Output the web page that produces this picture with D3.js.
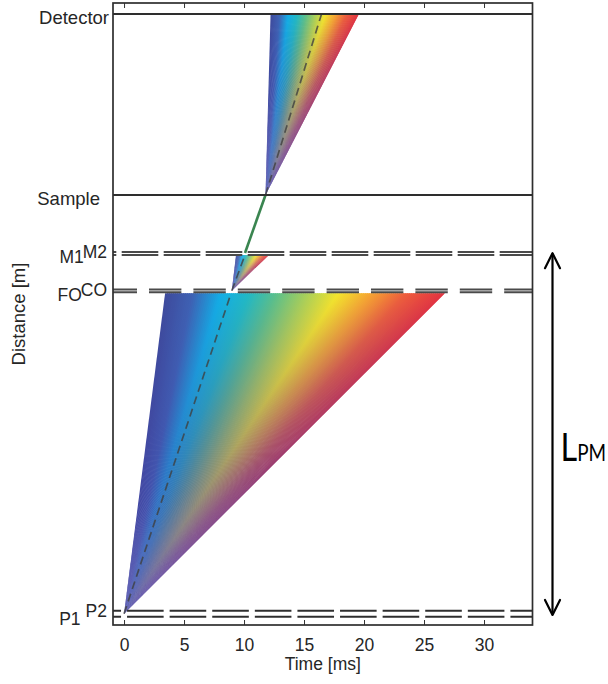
<!DOCTYPE html>
<html><head><meta charset="utf-8">
<script src="https://cdn.jsdelivr.net/npm/d3@7"></script>
<style>
html,body{margin:0;padding:0;background:#fff;}
svg{display:block;}
text{font-family:"Liberation Sans",Arial,Helvetica,sans-serif;fill:#262626;}
</style></head><body>
<svg id="chart" width="608" height="684"></svg>
<script>
// ---------------- data ----------------
const timeTicks = [0, 5, 10, 15, 20, 25, 30];
const timeDomain = [-0.92, 34.04];      // ms
const distDomain = [-0.332, 24.548];    // m

const chopperNames      = ["P1", "P2", "FO", "CO", "M1", "M2"];
const chopperDist       = [0, 0.24, 12.98, 13.09, 14.47, 14.59];
const chopperPeriod     = [3.55, 3.55, 3.7, 3.7, 3.5, 3.5];
const chopperOpenTime   = [0, 0, 8.98, 8.98, 10.08, 10.08];
const chopperOpenWidth  = [0.5, 0.5, 1.0, 1.0, 0.45, 0.45];

const positionNames = ["Sample", "Detector"];
const positionDist  = [16.87, 24.11];

const fanApexTime    = [0, 8.98, 11.79];
const fanApexDist    = [0.12, 13.04, 16.87];
const fanTopDist     = [12.94, 14.47, 24.11];
const fanTopTimeMin  = [3.42, 9.33, 12.21];
const fanTopTimeMax  = [26.75, 12.08, 19.58];
const fanCentreTime  = [8.92, 10.08, 16.46];

const selectedRayTime = [10.08, 11.79];
const selectedRayDist = [14.55, 16.87];

const spanDist = [0.07, 14.54];
const spanLabel = "L", spanSub = "PM";

const rainbowStops  = [0, 0.1, 0.2, 0.3, 0.4, 0.5, 0.62, 0.74, 0.86, 1];
const rainbowColors = ["#3e4a9c", "#3e62b4", "#12aee6", "#22b9c4", "#5cc08a",
                       "#a4cf5c", "#f4e42c", "#f6a232", "#ee5d3c", "#e43340"];
const apexColor = "#4545a8";

// ---------------- layout ----------------
const W = 608, H = 684;
const margin = {top: 3, right: 75.5, bottom: 59, left: 113};
const svg = d3.select("#chart");
const x = d3.scaleLinear().domain(timeDomain).range([margin.left, W - margin.right]);
const y = d3.scaleLinear().domain(distDomain).range([H - margin.bottom, margin.top]);
const rainbow = d3.scaleLinear().domain(rainbowStops).range(rainbowColors).interpolate(d3.interpolateRgb);

const defs = svg.append("defs");
defs.append("clipPath").attr("id", "plotclip").append("rect")
  .attr("x", margin.left).attr("y", margin.top)
  .attr("width", W - margin.right - margin.left).attr("height", H - margin.bottom - margin.top);

const plot = svg.append("g").attr("clip-path", "url(#plotclip)");

// ---------------- fans (gouraud-like shading) ----------------
const mixOffsets = [0, 0.25, 0.5, 0.75, 1];
fanApexTime.forEach((at, f) => {
  const N = f === 0 ? 140 : 80;
  const ax = x(at), ay = y(fanApexDist[f]);
  const ty = y(fanTopDist[f]);
  const tmin = fanTopTimeMin[f], tmax = fanTopTimeMax[f];
  const g = plot.append("g");
  for (let i = 0; i < N; i++) {
    const u0 = i / N, u1 = (i + 1) / N, um = (u0 + u1) / 2;
    const t0 = tmin + u0 * (tmax - tmin);
    const t1 = tmin + Math.min(1, u1 + 0.7 / N) * (tmax - tmin);
    const tm = tmin + um * (tmax - tmin);
    const id = `fg${f}_${i}`;
    const lg = defs.append("linearGradient").attr("id", id)
      .attr("gradientUnits", "userSpaceOnUse")
      .attr("x1", ax).attr("y1", ay).attr("x2", x(tm)).attr("y2", ty);
    const mixer = d3.interpolateRgb(apexColor, rainbow(um));
    mixOffsets.forEach(o => {
      lg.append("stop").attr("offset", o).attr("stop-color", mixer(Math.pow(o, 0.8)));
    });
    g.append("path")
      .attr("d", `M${ax},${ay}L${x(t0)},${ty}L${x(t1)},${ty}Z`)
      .attr("fill", `url(#${id})`);
  }
  // central (dashed) ray
  plot.append("line")
    .attr("x1", ax).attr("y1", ay).attr("x2", x(fanCentreTime[f])).attr("y2", ty)
    .attr("stroke", "#404040").attr("stroke-opacity", 0.8)
    .attr("stroke-width", 1.7).attr("stroke-dasharray", "8,5");
});

// selected ray between monochromator and sample
plot.append("line")
  .attr("x1", x(selectedRayTime[0])).attr("y1", y(selectedRayDist[0]))
  .attr("x2", x(selectedRayTime[1])).attr("y2", y(selectedRayDist[1]))
  .attr("stroke", "#3a8550").attr("stroke-width", 2.6);

// ---------------- chopper lines ----------------
chopperNames.forEach((name, c) => {
  const p = chopperPeriod[c], o = chopperOpenTime[c], w = chopperOpenWidth[c];
  const kMin = Math.floor((timeDomain[0] - o) / p) - 1;
  const kMax = Math.ceil((timeDomain[1] - o) / p) + 1;
  const segs = [];
  for (let k = kMin; k < kMax; k++) {
    segs.push([o + k * p + w / 2, o + (k + 1) * p - w / 2]);
  }
  plot.append("g").selectAll("line").data(segs).join("line")
    .attr("x1", d => x(d[0])).attr("x2", d => x(d[1]))
    .attr("y1", y(chopperDist[c])).attr("y2", y(chopperDist[c]))
    .attr("stroke", c < 2 ? "#2e2e2e" : "#4a4a4a").attr("stroke-width", 2.1);
});

// ---------------- sample / detector ----------------
positionNames.forEach((name, i) => {
  svg.append("line")
    .attr("x1", x(timeDomain[0])).attr("x2", x(timeDomain[1]))
    .attr("y1", y(positionDist[i])).attr("y2", y(positionDist[i]))
    .attr("stroke", "#2e2e2e").attr("stroke-width", 1.9);
});
svg.append("text").text(positionNames[0])
  .attr("x", 100).attr("y", y(positionDist[0]) + 10)
  .attr("text-anchor", "end").attr("font-size", 18.5);
svg.append("text").text(positionNames[1])
  .attr("x", 109).attr("y", y(positionDist[1]) + 10)
  .attr("text-anchor", "end").attr("font-size", 18.5);

// chopper labels (pairs: second raised like a superscript)
const pairs = [[0, 1, 6], [2, 3, 0], [4, 5, 0]];
pairs.forEach(([a, b, gap]) => {
  const t2 = svg.append("text").text(chopperNames[b])
    .attr("x", 107).attr("y", y(chopperDist[b]) + 6.5)
    .attr("text-anchor", "end").attr("font-size", 17.5);
  const len2 = t2.node().getComputedTextLength();
  svg.append("text").text(chopperNames[a])
    .attr("x", 107 - len2 - gap + 1).attr("y", y(chopperDist[a]) + 8.5)
    .attr("text-anchor", "end").attr("font-size", 17.5);
});

// ---------------- axes & frame ----------------
const bottomAxis = svg.append("g").attr("transform", `translate(0,${H - margin.bottom})`)
  .call(d3.axisBottom(x).tickValues(timeTicks).tickSizeInner(-5).tickSizeOuter(0));
bottomAxis.select(".domain").remove();
bottomAxis.selectAll("line").attr("stroke", "#333");
bottomAxis.selectAll("text").attr("y", 26).attr("dy", null)
  .attr("font-size", 17.5).attr("font-family", "Liberation Sans, Arial, sans-serif").attr("fill", "#262626");

const topAxis = svg.append("g").attr("transform", `translate(0,${margin.top})`)
  .call(d3.axisTop(x).tickValues(timeTicks).tickSizeInner(-5).tickSizeOuter(0).tickFormat(() => ""));
topAxis.select(".domain").remove();
topAxis.selectAll("line").attr("stroke", "#333");

svg.append("rect")
  .attr("x", margin.left).attr("y", margin.top)
  .attr("width", W - margin.right - margin.left).attr("height", H - margin.bottom - margin.top)
  .attr("fill", "none").attr("stroke", "#2e2e2e").attr("stroke-width", 1.7);

svg.append("text").text("Time [ms]")
  .attr("x", (margin.left + W - margin.right) / 2).attr("y", 670)
  .attr("text-anchor", "middle").attr("font-size", 17.5);
svg.append("text").text("Distance [m]")
  .attr("transform", `translate(25,${(margin.top + H - margin.bottom) / 2}) rotate(-90)`)
  .attr("text-anchor", "middle").attr("font-size", 18.5);

// ---------------- L_PM annotation ----------------
const ax0 = W - margin.right + 20;
const yTop = y(spanDist[1]), yBot = y(spanDist[0]);
const ann = svg.append("g").attr("stroke", "#000").attr("stroke-width", 2.2)
  .attr("fill", "none").attr("stroke-linecap", "round").attr("stroke-linejoin", "round");
ann.append("line").attr("x1", ax0).attr("x2", ax0).attr("y1", yTop + 1).attr("y2", yBot - 1);
ann.append("path").attr("d", `M${ax0 - 7.5},${yTop + 15}L${ax0},${yTop}L${ax0 + 7.5},${yTop + 15}`);
ann.append("path").attr("d", `M${ax0 - 7.5},${yBot - 15}L${ax0},${yBot}L${ax0 + 7.5},${yBot - 15}`);
const lt = svg.append("text")
  .attr("transform", `translate(${ax0 + 8},461) scale(1,1.22)`)
  .style("font-family", "Lato, 'Open Sans', sans-serif").style("fill", "#000");
const tL = lt.append("tspan").text(spanLabel).attr("font-size", 36);
const tS = lt.append("tspan").text(spanSub).attr("font-size", 21);
// fit inside the page
const avail = W - 2 - (ax0 + 8);
const len = lt.node().getComputedTextLength();
if (len > avail) {
  const k = avail / len;
  tL.attr("font-size", 36 * k);
  tS.attr("font-size", 21 * k);
}
</script>
</body></html>
